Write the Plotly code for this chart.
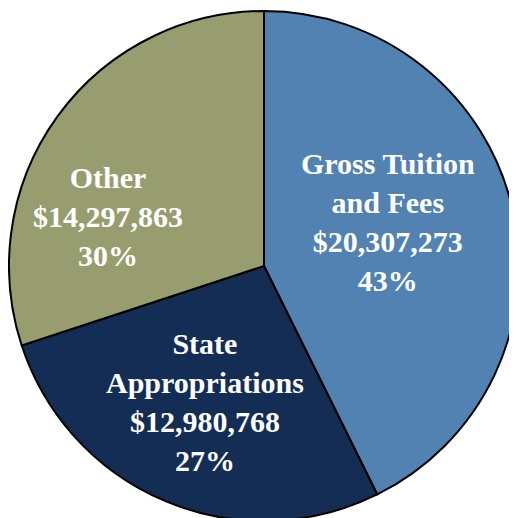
import plotly.graph_objects as go

categories = ["Gross Tuition<br>and Fees", "State<br>Appropriations", "Other"]
values = [20307273, 12980768, 14297863]
colors = ["#5282b2", "#132d55", "#979d6f"]

W, H = 517, 518
OFF = 8  # default page body margin
total = sum(values)

fig = go.Figure(go.Pie(
    labels=categories,
    values=values,
    sort=False,
    direction="clockwise",
    rotation=0,
    textinfo="none",
    hoverinfo="label+value+percent",
    marker=dict(colors=colors, line=dict(color="black", width=2)),
    domain=dict(x=[1 / W, 511 / W], y=[5 / H, 515 / H]),
    showlegend=False,
))

# label anchor positions (pixels on the page)
label_px = [(388, 222), (205, 402), (108, 216)]
for cat, val, (px, py) in zip(categories, values, label_px):
    pct = round(100 * val / total)
    txt = "<br>".join(f"<b>{s}</b>" for s in f"{cat}<br>${val:,}<br>{pct}%".split("<br>"))
    fig.add_annotation(
        x=(px - OFF) / W, y=1 - (py - OFF) / H, xref="paper", yref="paper",
        xanchor="center", yanchor="middle",
        text=txt,
        showarrow=False, align="center",
        font=dict(family="Liberation Serif", size=30, color="white"),
    )

fig.update_layout(
    width=W, height=H,
    margin=dict(l=0, r=0, t=0, b=0),
    paper_bgcolor="white", plot_bgcolor="white",
)
fig.write_html("out.html")
